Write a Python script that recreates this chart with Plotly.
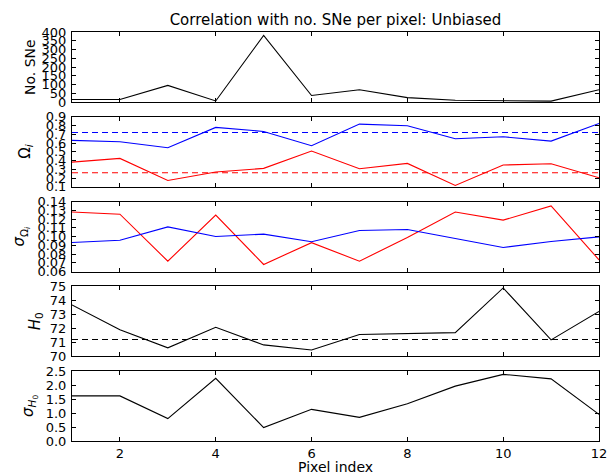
import plotly.graph_objects as go
from plotly.subplots import make_subplots

pixel = list(range(1, 13))
n_sne = [14, 14, 95, 6, 380, 37, 70, 25, 10, 6, 5, 70]
omega_blue = [0.63, 0.614, 0.546, 0.778, 0.732, 0.569, 0.816, 0.797, 0.649, 0.671, 0.622, 0.824]
omega_red = [0.382, 0.424, 0.172, 0.268, 0.31, 0.508, 0.306, 0.367, 0.115, 0.348, 0.363, 0.203]
omega_blue_ref = 0.72
omega_red_ref = 0.26
sig_omega_red = [0.128, 0.1255, 0.0718, 0.1244, 0.068, 0.093, 0.0718, 0.0989, 0.128, 0.1187, 0.135, 0.0733]
sig_omega_blue = [0.0931, 0.0958, 0.111, 0.100, 0.1027, 0.094, 0.1069, 0.108, 0.0977, 0.0874, 0.0943, 0.0996]
h0 = [73.67, 71.9, 70.6, 72.07, 70.81, 70.45, 71.55, 71.64, 71.69, 74.88, 71.17, 73.2]
h0_ref = 71.2
sig_h0 = [1.61, 1.61, 0.80, 2.24, 0.48, 1.13, 0.845, 1.33, 1.96, 2.38, 2.22, 0.95]

BLUE = "#0000ff"
RED = "#ff0000"
FONT = "DejaVu Sans"

fig = make_subplots(rows=5, cols=1, shared_xaxes=True, vertical_spacing=14.75 / 409)

def line(y, color, row):
    fig.add_trace(go.Scatter(x=pixel, y=y, mode="lines", line=dict(color=color, width=1.1),
                             showlegend=False, hoverinfo="skip"), row=row, col=1)

def hline(v, color, row):
    fig.add_trace(go.Scatter(x=[pixel[0], pixel[-1]], y=[v, v], mode="lines",
                             line=dict(color=color, width=1.1, dash="6px,4px"),
                             showlegend=False, hoverinfo="skip"), row=row, col=1)

line(n_sne, "black", 1)
line(omega_blue, BLUE, 2)
line(omega_red, RED, 2)
hline(omega_blue_ref, BLUE, 2)
hline(omega_red_ref, RED, 2)
line(sig_omega_red, RED, 3)
line(sig_omega_blue, BLUE, 3)
line(h0, "black", 4)
hline(h0_ref, "black", 4)
line(sig_h0, "black", 5)

axcommon = dict(showline=True, linecolor="black", linewidth=1, mirror="ticks", ticks="inside",
                ticklen=4, tickcolor="black", showgrid=False, zeroline=False, automargin=False,
                tickfont=dict(family=FONT, size=13, color="black"))

yranges = [(0, 400, 50), (0.1, 0.9, 0.1), (0.06, 0.14, 0.01), (70, 75, 1), (0, 2.5, 0.5)]
yfmt = ["d", ".1f", ".2f", "d", ".1f"]
for i, (lo, hi, dt) in enumerate(yranges):
    fig.update_yaxes(range=[lo, hi], tickmode="linear", tick0=lo, dtick=dt, tickformat=yfmt[i],
                     ticklabelstandoff=2, row=i + 1, col=1, **axcommon)
    fig.update_xaxes(range=[1, 12], tickmode="linear", tick0=2, dtick=2,
                     showticklabels=(i == 4), row=i + 1, col=1, **axcommon)

ylabels = [("No. SNe", 30, 1), ("Ω<sub><i>i</i></sub>", 26, 2), ("<i>σ</i><sub>Ω<sub><i>i</i></sub></sub>", 21, 3),
           ("<i>H</i><sub>0</sub>", 35, 4), ("<i>σ</i><sub><i>H</i><sub>0</sub></sub>", 30, 5)]
centers = [1 - 0.0856, 0.7927 - 0.0856, 0.5855 - 0.0856, 0.3783 - 0.0856, 0.0856]
for (txt, xpx, r), yc in zip(ylabels, centers):
    fig.add_annotation(text=txt, xref="paper", yref="paper", x=(xpx - 72) / 527, y=yc,
                       xanchor="center", yanchor="middle", textangle=-90, showarrow=False,
                       font=dict(family=FONT, size=15 if r > 1 else 14, color="black"))

fig.add_annotation(text="Pixel index", xref="paper", yref="paper", x=0.5, y=-(467 - 441) / 409,
                   xanchor="center", yanchor="middle", showarrow=False,
                   font=dict(family=FONT, size=14, color="black"))

fig.update_layout(
    width=612, height=476,
    margin=dict(l=72, r=13, t=32, b=35),
    paper_bgcolor="white", plot_bgcolor="white",
    title=dict(text="Correlation with no. SNe per pixel: Unbiased", x=(335.5) / 612, xanchor="center",
               y=1 - 20 / 476, yanchor="middle", font=dict(family=FONT, size=15, color="black")),
    showlegend=False,
)

fig.write_html("out.html")
